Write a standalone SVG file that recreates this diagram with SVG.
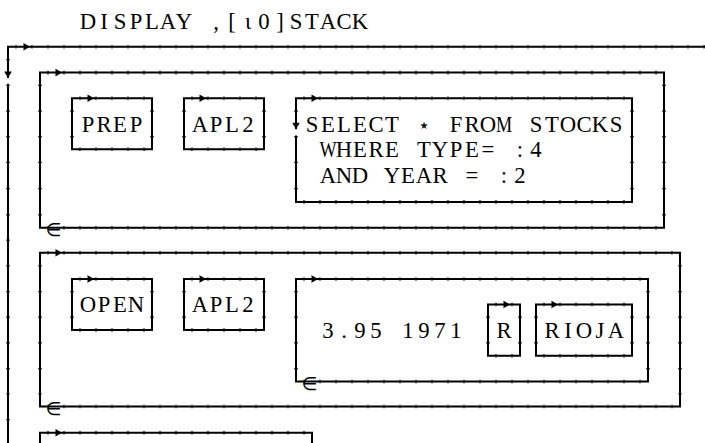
<svg xmlns="http://www.w3.org/2000/svg" xmlns:xlink="http://www.w3.org/1999/xlink" width="705" height="443" viewBox="0 0 705 443">
<style>
.ln{fill:none;stroke:#000;stroke-width:2;stroke-linejoin:miter;stroke-linecap:butt}
.tk{fill:none;stroke:#000;stroke-width:3.6;stroke-dasharray:1.2 14.8}
.tv{fill:none;stroke:#000;stroke-width:3.6}
.ah{fill:#000}
.t{font-family:"Liberation Serif","Times New Roman",serif;font-size:22.7px;fill:#000;text-anchor:middle}
.s{font-family:"DejaVu Sans",sans-serif;font-size:20px;fill:#000;text-anchor:middle}
.e{font-family:"DejaVu Sans",sans-serif;font-size:18px;fill:#000;text-anchor:middle}
</style>
<defs>
<path id="ar" d="M0,0 L-6.5,-3.8 L-6.5,3.8 Z"/>
<path id="ad" d="M0,0 L-3.8,-6.5 L3.8,-6.5 Z"/>
</defs>
<rect width="705" height="443" fill="#fff"/>
<g id="command">
<text class="t" x="88 104 120 136 152 168 184" y="28.8">DISPLAY</text>
<text class="t" x="216 232 248 264 280 296 312 328 344 360" y="28.8">,[ι0]STACK</text>
</g>

<g id="outer">
<path class="ln" d="M8,77.9 V46.7 H705 M8,83.7 V443"/>
<path class="tk" d="M15.4,46.7 H704.6"/>
<path class="tv" d="M8,59v1.2 M8,84.8v1.2 M8,110.5v1.2 M8,136v1.2 M8,161.8v1.2 M8,188.1v1.2 M8,214.2v1.2 M8,239.6v1.2 M8,265.3v1.2 M8,291.1v1.2 M8,316.6v1.2 M8,342.2v1.2 M8,368v1.2 M8,393.4v1.2 M8,419v1.2"/>
<use class="ah" xlink:href="#ar" x="30" y="46.7"/>
<use class="ah" xlink:href="#ad" x="8" y="77.9"/>
</g>

<g id="item1">
<path class="ln" d="M40,72.6 H664 V227.7 H40 Z"/>
<path class="tk" d="M47.4,72.6 H656.6 M47.4,227.7 H656.6"/>
<path class="tv" d="M40,84.8v1.2 M40,110.5v1.2 M40,136v1.2 M40,161.8v1.2 M40,188.1v1.2 M40,214.2v1.2 M664,84.8v1.2 M664,110.5v1.2 M664,136v1.2 M664,161.8v1.2 M664,188.1v1.2 M664,214.2v1.2"/>
<use class="ah" xlink:href="#ar" x="62" y="72.6"/>
<text class="e" x="53.5" y="236.2">∈</text>
</g>

<g id="prep">
<path class="ln" d="M72,98.3 H152 V149.3 H72 Z"/>
<path class="tk" d="M79.4,98.3 H144.6 M79.4,149.3 H144.6"/>
<path class="tv" d="M72,110.5v1.2 M72,136v1.2 M152,110.5v1.2 M152,136v1.2"/>
<use class="ah" xlink:href="#ar" x="94" y="98.3"/>
<text class="t" x="88 104 120 136" y="131.72">PREP</text>
</g>

<g id="apl2a">
<path class="ln" d="M184,98.3 H264 V149.3 H184 Z"/>
<path class="tk" d="M191.4,98.3 H256.6 M191.4,149.3 H256.6"/>
<path class="tv" d="M184,110.5v1.2 M184,136v1.2 M264,110.5v1.2 M264,136v1.2"/>
<use class="ah" xlink:href="#ar" x="206" y="98.3"/>
<text class="t" x="200 216 232 248" y="131.72">APL2</text>
</g>

<g id="select">
<path class="ln" d="M296,129.3 V98.3 H632 V201.9 H296 V135.6"/>
<path class="tk" d="M303.4,98.3 H624.6 M303.4,201.9 H624.6"/>
<path class="tv" d="M296,110.5v1.2 M296,136v1.2 M296,161.8v1.2 M296,188.1v1.2 M632,110.5v1.2 M632,136v1.2 M632,161.8v1.2 M632,188.1v1.2"/>
<use class="ah" xlink:href="#ar" x="318" y="98.3"/>
<use class="ah" xlink:href="#ad" x="296" y="129.3"/>
<text class="t" x="312 328 344 360 376 392" y="131.72">SELECT</text>
<text class="s" x="424" y="131.72">⋆</text>
<text class="t" x="456 472 488" y="131.72">FRO</text>
<text class="t" transform="scale(0.8,1)" x="630" y="131.72">M</text>
<text class="t" x="536 552 568 584 600 616" y="131.72">STOCKS</text>
<text class="t" transform="scale(0.8,1)" x="410" y="157.2">W</text>
<text class="t" x="344 360 376 392" y="157.2">HERE</text>
<text class="t" x="424 440 456 472 488" y="157.2">TYPE=</text>
<text class="t" x="520 536" y="157.2">:4</text>
<text class="t" x="328 344 360" y="183.3">AND</text>
<text class="t" x="392 408 424 440" y="183.3">YEAR</text>
<text class="t" x="472" y="183.3">=</text>
<text class="t" x="504 520" y="183.3">:2</text>
</g>

<g id="item2">
<path class="ln" d="M40,252.8 H680 V406.5 H40 Z"/>
<path class="tk" d="M47.4,252.8 H672.6 M47.4,406.5 H672.6"/>
<path class="tv" d="M40,265.3v1.2 M40,291.1v1.2 M40,316.6v1.2 M40,342.2v1.2 M40,368v1.2 M40,393.4v1.2 M680,265.3v1.2 M680,291.1v1.2 M680,316.6v1.2 M680,342.2v1.2 M680,368v1.2 M680,393.4v1.2"/>
<use class="ah" xlink:href="#ar" x="62" y="252.8"/>
<text class="e" x="53.5" y="415">∈</text>
</g>

<g id="open">
<path class="ln" d="M72,279 H152 V330 H72 Z"/>
<path class="tk" d="M79.4,279 H144.6 M79.4,330 H144.6"/>
<path class="tv" d="M72,291.1v1.2 M72,316.6v1.2 M152,291.1v1.2 M152,316.6v1.2"/>
<use class="ah" xlink:href="#ar" x="94" y="279"/>
<text class="t" x="88 104 120 136" y="311.9">OPEN</text>
</g>

<g id="apl2b">
<path class="ln" d="M184,279 H264 V330 H184 Z"/>
<path class="tk" d="M191.4,279 H256.6 M191.4,330 H256.6"/>
<path class="tv" d="M184,291.1v1.2 M184,316.6v1.2 M264,291.1v1.2 M264,316.6v1.2"/>
<use class="ah" xlink:href="#ar" x="206" y="279"/>
<text class="t" x="200 216 232 248" y="311.9">APL2</text>
</g>

<g id="data">
<path class="ln" d="M296,279 H648 V381.5 H296 Z"/>
<path class="tk" d="M303.4,279 H640.6 M303.4,381.5 H640.6"/>
<path class="tv" d="M296,291.1v1.2 M296,316.6v1.2 M296,342.2v1.2 M296,368v1.2 M648,291.1v1.2 M648,316.6v1.2 M648,342.2v1.2 M648,368v1.2"/>
<use class="ah" xlink:href="#ar" x="318" y="279"/>
<text class="e" x="309.5" y="390">∈</text>
<text class="t" x="328 344 360 376" y="337.8">3.95</text>
<text class="t" x="408 424 440 456" y="337.8">1971</text>
</g>

<g id="r">
<path class="ln" d="M488,304.5 H520 V355.7 H488 Z"/>
<path class="tk" d="M495.4,304.5 H512.6 M495.4,355.7 H512.6"/>
<path class="tv" d="M488,316.6v1.2 M488,342.2v1.2 M520,316.6v1.2 M520,342.2v1.2"/>
<use class="ah" xlink:href="#ar" x="510" y="304.5"/>
<text class="t" x="504" y="337.8">R</text>
</g>

<g id="rioja">
<path class="ln" d="M536,304.5 H632 V355.7 H536 Z"/>
<path class="tk" d="M543.4,304.5 H624.6 M543.4,355.7 H624.6"/>
<path class="tv" d="M536,316.6v1.2 M536,342.2v1.2 M632,316.6v1.2 M632,342.2v1.2"/>
<use class="ah" xlink:href="#ar" x="558" y="304.5"/>
<text class="t" x="552 568 584 600 616" y="337.8">RIOJA</text>
</g>

<g id="item3">
<path class="ln" d="M40,443 V432.7 H312 V443"/>
<path class="tk" d="M47.4,432.7 H304.6"/>
<use class="ah" xlink:href="#ar" x="62" y="432.7"/>
</g>
</svg>
